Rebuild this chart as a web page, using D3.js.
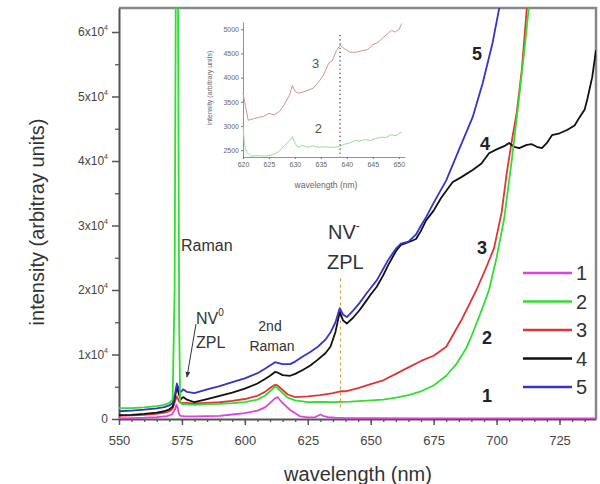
<!DOCTYPE html>
<html>
<head>
<meta charset="utf-8">
<script src="https://cdn.jsdelivr.net/npm/d3@7"></script>
<style>
  body { margin: 0; background: #fff; }
  svg { font-family: "Liberation Sans", Arial, sans-serif; }
</style>
</head>
<body>
<svg id="chart" width="600" height="484"></svg>
<script>
// spectra: [wavelength nm, intensity]
const curve1 = [[550,100],[555,150],[560,200],[565,300],[569,450],[571,700],[572.3,1500],[572.8,2200],[573.3,1800],[573.8,800],[574.3,500],[576,450],[580,400],[585,450],[590,500],[595,700],[600,900],[605,1300],[608,1800],[610,2500],[612,3200],[613,3400],[614,2900],[616,2100],[618,1400],[620,900],[622,400],[625,250],[628,300],[630,700],[631,500],[633,300],[636,200],[640,150],[650,120],[670,100],[700,100],[739.5,100]];
const curve2 = [[550,1700],[555,1700],[560,1800],[565,2000],[568,2200],[570,2500],[571.3,3000],[572.1,20000],[572.6,70000],[573.4,70000],[573.9,15000],[574.3,2600],[575,2300],[580,2200],[585,2300],[590,2350],[595,2450],[600,2600],[605,3000],[608,3600],[610,4300],[612,5000],[613,4800],[615,4000],[617,3300],[620,2900],[625,2600],[630,2650],[635,2600],[638,2650],[642,2700],[650,2900],[655,3000],[660,3300],[665,3700],[670,4300],[675,5200],[680,6700],[684,8500],[688,11000],[691,13800],[694,16800],[697,20000],[700,25000],[703,31000],[706,40000],[709,50000],[711,57000],[713,64500],[714,68000]];
const curve3 = [[550,500],[555,550],[560,650],[565,800],[568,1000],[570,1200],[571.3,1600],[572.3,2800],[573,3500],[573.8,2800],[574.3,2500],[576,2500],[580,2400],[585,2500],[590,2600],[595,2800],[600,3100],[605,3600],[608,4200],[610,4800],[612,5300],[613,5200],[615,4500],[617,3800],[620,3400],[625,3500],[630,3700],[635,4000],[638,4300],[640,4300],[645,4800],[650,5400],[655,6000],[660,7000],[665,8000],[670,9000],[675,9800],[680,11200],[686,15300],[692,20000],[696,23600],[699,26500],[702,32000],[704,38000],[706,43000],[708,47500],[710,54000],[712.5,66000]];
const curve4 = [[550,600],[555,650],[560,800],[565,1000],[568,1200],[570,1500],[571.3,1900],[572.3,3500],[573,5000],[573.8,3800],[574.6,3100],[575.5,3400],[577,3000],[580,2600],[585,3100],[590,3600],[595,4100],[600,4700],[605,5500],[608,6200],[610,6700],[612,7300],[613,7200],[615,6800],[618,6700],[620,7000],[623,7600],[626,8300],[629,9200],[632,10200],[634,11200],[636,13500],[637.7,16600],[639,15300],[640.5,14800],[643,15700],[645.6,16900],[648,18200],[650,19300],[652.4,20500],[655,22300],[657,23900],[660,26000],[662,27000],[665,27400],[668,27900],[670,29200],[672,30800],[675,32300],[678,34300],[682.5,36700],[686,37500],[690.5,38600],[694,39600],[697,41200],[700,41800],[703,42300],[705,42800],[707,42200],[709,42000],[712,42500],[714,42600],[716,42200],[718,42000],[720,42800],[722,44000],[725,44300],[728,44800],[731,45500],[733,46800],[735,48000],[736,49500],[738,53000],[739.5,57200]];
const curve5 = [[550,1200],[555,1300],[560,1450],[565,1650],[568,1850],[570,2100],[571.3,2500],[572.3,4000],[573,5500],[573.8,4600],[574.6,4200],[575.5,4600],[577,4200],[580,4000],[585,4600],[590,5100],[595,5700],[600,6300],[605,7100],[608,7800],[610,8300],[612,8800],[613,8700],[615,8500],[618,8500],[620,8900],[623,9700],[626,10400],[629,11200],[632,12300],[634,13400],[636,15000],[637.7,17200],[639,16200],[640.5,15800],[643,16800],[645.6,18000],[648,19300],[650,20300],[652.4,21500],[655,23300],[657,24700],[660,26400],[662,27200],[665,27500],[668,28600],[670,30000],[672,31300],[675,33500],[680,37000],[685,41700],[690.5,46800],[694.5,52100],[698.4,58300],[701.7,65000]];

// inset (zoom on 620-650 nm)
const inset3 = [[620,3680],[620.5,3400],[621,3120],[622,3150],[623,3180],[624,3200],[625,3260],[626,3230],[627,3300],[628,3450],[629,3650],[629.5,3840],[630,3720],[630.6,3680],[631.5,3700],[632.5,3740],[633.5,3780],[634.5,3900],[635.5,4050],[636.5,4300],[637.2,4350],[638,4560],[638.7,4670],[639.5,4600],[640.5,4530],[641.5,4520],[643,4560],[644,4580],[645,4680],[646,4730],[647,4830],[648,4920],[648.6,4980],[649.3,4940],[650,4990],[650.6,5120]];
const inset2 = [[620,3000],[620.3,2600],[620.8,2450],[621.5,2380],[623,2390],[624,2380],[625,2390],[626,2420],[627,2480],[628,2600],[629,2700],[629.5,2780],[630,2650],[630.5,2560],[631.5,2600],[632.5,2560],[633.5,2590],[634.5,2560],[636,2570],[637.5,2560],[638.6,2580],[639.5,2620],[640.5,2650],[641.5,2700],[642.5,2690],[643.5,2720],[644.5,2700],[645.5,2740],[646.5,2770],[647.5,2760],[648.5,2820],[649.5,2800],[650.6,2880]];

const seriesNames = ["1", "2", "3", "4", "5"];
const seriesColors = ["#dd44dd", "#33dd33", "#e03535", "#111111", "#3535c8"];
const xTicks = [550, 575, 600, 625, 650, 675, 700, 725];
const yTicks = [0, 10000, 20000, 30000, 40000, 50000, 60000];
const insetXTicks = [620, 625, 630, 635, 640, 645, 650];
const insetYTicks = [2500, 3000, 3500, 4000, 4500, 5000];
const nvMinus = 638;
const insetMark = 638.7;

const svg = d3.select("#chart");

const x = d3.scaleLinear().domain([550, 739.5]).range([119, 596]);
const y = d3.scaleLinear().domain([0, 63720]).range([419, 8]);

svg.append("defs").append("clipPath").attr("id", "plotclip")
  .append("rect").attr("x", 119).attr("y", 8).attr("width", 477).attr("height", 411);

// frame top + right
svg.append("path")
  .attr("d", `M119,8 H596 V419`)
  .attr("fill", "none").attr("stroke", "#888").attr("stroke-width", 2.5);

// minor ticks
svg.append("g").attr("transform", "translate(0,419)")
  .call(d3.axisBottom(x).tickValues(d3.range(550, 740, 5)).tickSize(3).tickFormat("").tickSizeOuter(0))
  .call(g => g.select(".domain").remove())
  .call(g => g.selectAll("line").attr("stroke", "#555").attr("stroke-width", 1.3));
svg.append("g").attr("transform", "translate(119,0)")
  .call(d3.axisLeft(y).tickValues(d3.range(5000, 63000, 10000)).tickSize(4).tickFormat("").tickSizeOuter(0))
  .call(g => g.select(".domain").remove())
  .call(g => g.selectAll("line").attr("stroke", "#555").attr("stroke-width", 1.3));

// major axes
const xAxis = svg.append("g").attr("transform", "translate(0,419)")
  .call(d3.axisBottom(x).tickValues(xTicks).tickSize(6).tickSizeOuter(0).tickPadding(11));
xAxis.select(".domain").attr("stroke", "#555").attr("stroke-width", 2);
xAxis.selectAll("line").attr("stroke", "#555").attr("stroke-width", 1.5);
xAxis.selectAll("text").attr("font-size", 13).attr("fill", "#444");

const yAxis = svg.append("g").attr("transform", "translate(119,0)")
  .call(d3.axisLeft(y).tickValues(yTicks).tickSize(7).tickSizeOuter(0).tickPadding(4));
yAxis.select(".domain").attr("stroke", "#555").attr("stroke-width", 2);
yAxis.selectAll("line").attr("stroke", "#555").attr("stroke-width", 1.5);
yAxis.selectAll("text").attr("font-size", 12).attr("fill", "#444")
  .each(function(d) {
    const t = d3.select(this);
    if (d === 0) { t.text("0"); return; }
    t.text(d / 10000 + "x10");
    t.append("tspan").attr("dy", -6).attr("font-size", 7).text("4");
  });

// axis titles
svg.append("text")
  .attr("transform", "translate(44,222) rotate(-90)")
  .attr("text-anchor", "middle").attr("font-size", 20).attr("fill", "#333")
  .text("intensity (arbitray units)");
svg.append("text")
  .attr("x", 358).attr("y", 481)
  .attr("text-anchor", "middle").attr("font-size", 20).attr("fill", "#333")
  .text("wavelength (nm)");

// NV- ZPL marker
svg.append("line")
  .attr("x1", x(nvMinus)).attr("x2", x(nvMinus))
  .attr("y1", y(21800)).attr("y2", y(1800))
  .attr("stroke", "#e0a040").attr("stroke-width", 1.2).attr("stroke-dasharray", "3,3");

// spectra
const line = d3.line().x(d => x(d[0])).y(d => y(d[1]));
const plot = svg.append("g").attr("clip-path", "url(#plotclip)");
[curve1, curve3, curve4, curve5, curve2].forEach((c, i) => {
  const idx = [0, 2, 3, 4, 1][i];
  plot.append("path").datum(c)
    .attr("d", line).attr("fill", "none")
    .attr("stroke", seriesColors[idx]).attr("stroke-width", 1.8)
    .attr("stroke-linejoin", "round");
});

// inset
const ix = d3.scaleLinear().domain([620, 651.2]).range([243, 405]);
const iy = d3.scaleLinear().domain([2360, 5150]).range([157, 22]);
const inset = svg.append("g");
const ixAxis = inset.append("g").attr("transform", "translate(0,157)")
  .call(d3.axisBottom(ix).tickValues(insetXTicks).tickSize(2).tickSizeOuter(0).tickPadding(3));
const iyAxis = inset.append("g").attr("transform", "translate(243,0)")
  .call(d3.axisLeft(iy).tickValues(insetYTicks).tickFormat(d3.format("d")).tickSize(2).tickSizeOuter(0).tickPadding(2));
[ixAxis, iyAxis].forEach(a => {
  a.select(".domain").attr("stroke", "#777").attr("stroke-width", 0.8);
  a.selectAll("line").attr("stroke", "#777");
  a.selectAll("text").attr("font-size", 7).attr("fill", "#666");
});
inset.append("text")
  .attr("transform", "translate(212,88) rotate(-90)")
  .attr("text-anchor", "middle").attr("font-size", 7).attr("fill", "#666")
  .text("intensity (arbitrary units)");
inset.append("text")
  .attr("x", 326).attr("y", 188)
  .attr("text-anchor", "middle").attr("font-size", 8.5).attr("fill", "#666")
  .text("wavelength (nm)");
const iline = d3.line().x(d => ix(d[0])).y(d => iy(d[1]));
inset.append("path").datum(inset3).attr("d", iline)
  .attr("fill", "none").attr("stroke", "#d99090").attr("stroke-width", 1);
inset.append("path").datum(inset2).attr("d", iline)
  .attr("fill", "none").attr("stroke", "#99dd99").attr("stroke-width", 1);
inset.append("line")
  .attr("x1", ix(insetMark)).attr("x2", ix(insetMark))
  .attr("y1", iy(4880)).attr("y2", iy(2360))
  .attr("stroke", "#333").attr("stroke-width", 1.2).attr("stroke-dasharray", "1.2,3");
inset.append("text").attr("x", ix(634)).attr("y", iy(4200))
  .attr("text-anchor", "middle").attr("font-size", 13).attr("fill", "#555").text("3");
inset.append("text").attr("x", ix(634.5)).attr("y", iy(2850))
  .attr("text-anchor", "middle").attr("font-size", 13).attr("fill", "#555").text("2");

// annotations
const ann = svg.append("g").attr("fill", "#333");
ann.append("text").attr("x", 181).attr("y", 251).attr("font-size", 16).text("Raman");

const nv0 = ann.append("text").attr("x", 196).attr("y", 324).attr("font-size", 16).text("NV");
nv0.append("tspan").attr("dy", -8).attr("font-size", 10).text("0");
ann.append("text").attr("x", 196).attr("y", 348).attr("font-size", 16).text("ZPL");
svg.append("defs").append("marker").attr("id", "arrow")
  .attr("viewBox", "0 0 10 10").attr("refX", 9).attr("refY", 5)
  .attr("markerWidth", 6).attr("markerHeight", 6).attr("orient", "auto")
  .append("path").attr("d", "M0,1 L10,5 L0,9 z").attr("fill", "#333");
svg.append("line")
  .attr("x1", 196).attr("y1", 324).attr("x2", x(577)).attr("y2", y(6500))
  .attr("stroke", "#333").attr("stroke-width", 1).attr("marker-end", "url(#arrow)");

ann.append("text").attr("x", 270).attr("y", 331).attr("text-anchor", "middle").attr("font-size", 14).text("2nd");
ann.append("text").attr("x", 272).attr("y", 351).attr("text-anchor", "middle").attr("font-size", 14).text("Raman");

const nvm = ann.append("text").attr("x", 328).attr("y", 239).attr("font-size", 20).text("NV");
nvm.append("tspan").attr("dy", -9).attr("font-size", 12).text("-");
ann.append("text").attr("x", 327).attr("y", 269).attr("font-size", 20).text("ZPL");

// curve labels
const curveLabels = [["5", 477, 60], ["4", 485, 150], ["3", 482, 254], ["2", 487, 344], ["1", 487, 402]];
curveLabels.forEach(([t, lx, ly]) => {
  ann.append("text").attr("x", lx).attr("y", ly).attr("text-anchor", "middle")
    .attr("font-size", 18).attr("font-weight", "bold").attr("fill", "#222").text(t);
});

// legend
const legend = svg.append("g");
seriesNames.forEach((n, i) => {
  const ly = 273 + i * 28.5;
  legend.append("line").attr("x1", 523).attr("x2", 572).attr("y1", ly).attr("y2", ly)
    .attr("stroke", seriesColors[i]).attr("stroke-width", 2.5);
  legend.append("text").attr("x", 576).attr("y", ly + 7).attr("font-size", 20)
    .attr("fill", "#333").text(n);
});
</script>
</body>
</html>
